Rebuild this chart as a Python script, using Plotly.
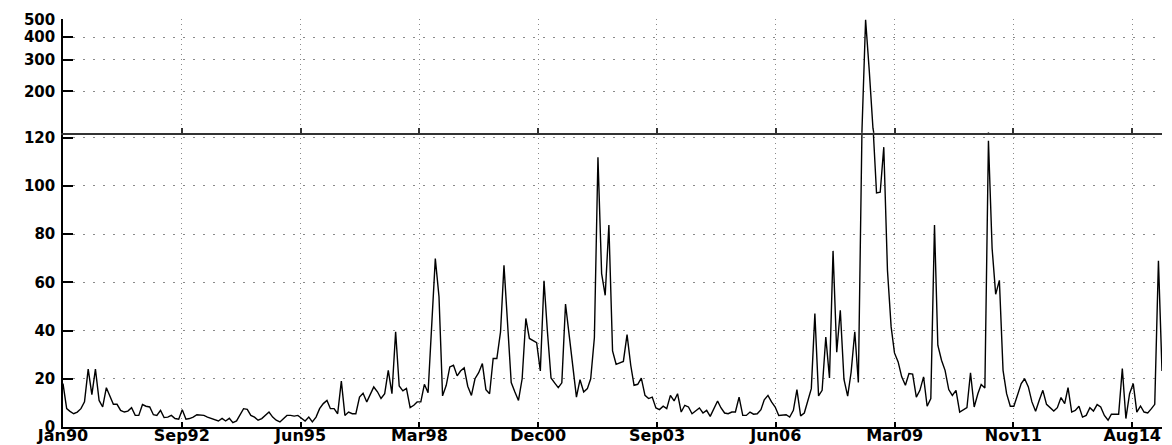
import math
import pandas as pd
import plotly.graph_objects as go

# ---------------- data (monthly, Jan 1990 - May 2015) ----------------
start_date = "1990-01-01"

values_1990s = [  # Jan 1990 - Dec 1999
    18, 7.6, 6.5, 5.5, 6.2, 7.6, 10.4, 24, 13.4, 24, 11, 8.3,
    16.3, 12.4, 9.4, 9.4, 6.9, 6.2, 6.6, 8.0, 4.8, 4.8, 9.3, 8.6,
    8.3, 5.1, 4.8, 6.9, 3.9, 4.1, 4.8, 3.5, 3.2, 7.2, 3.2, 3.5,
    4.1, 5.1, 5.1, 4.8, 4.1, 3.5, 2.8, 2.5, 3.6, 2.5, 3.6, 1.8,
    2.5, 5.5, 7.6, 7.3, 4.8, 4.1, 2.8, 3.5, 4.8, 6.2, 4.1, 2.8,
    2.1, 3.5, 4.8, 4.8, 4.5, 4.8, 3.5, 2.5, 4.1, 2.1, 4.1, 7.6,
    9.7, 11, 7.6, 7.6, 5.5, 19, 4.8, 6.2, 5.5, 5.5, 12.4, 14,
    10.4, 13.4, 16.6, 14.6, 11.8, 13.8, 23.5, 13.8, 39.5, 17, 15, 16,
    8, 9, 10.4, 10.4, 17.7, 14.2, 42, 69.8, 54, 12.9, 17.3, 24.9,
    25.6, 21.2, 23.2, 24.5, 16.9, 13.1, 20, 22.5, 26.3, 15.5, 13.8, 28.4,
]
values_2000s = [  # Jan 2000 - Dec 2009
    28.4, 39.4, 67, 42, 18.4, 14.5, 11, 20, 45, 36.7, 35.7, 35,
    23.2, 60.6, 40, 20.3, 18.3, 16.3, 18.3, 51, 38, 25, 12.4, 19.6,
    14.5, 15.9, 20, 37, 111.8, 63.6, 54.6, 83.7, 31.5, 26, 26.7, 27.2,
    38.3, 25.6, 17.3, 17.7, 20.3, 13.1, 11.8, 12.4, 7.9, 7.2, 8.6, 7.6,
    13.1, 10.8, 13.8, 6.2, 9, 8.3, 5.5, 6.9, 7.9, 5.8, 6.9, 4.4,
    7.6, 10.8, 8, 5.8, 5.5, 6.2, 6.2, 12.4, 4.8, 4.8, 6.2, 5.3,
    5.5, 7.2, 11.3, 13.1, 10.4, 8.3, 4.8, 4.8, 5.1, 4.1, 6.9, 15.5,
    4.6, 5.8, 10.5, 15.9, 47, 12.9, 15.2, 37.3, 20.3, 73, 31, 48.4,
    19.7, 12.8, 22.7, 39.5, 18.5, 125, 500, 260, 125, 97, 97.3, 116,
    65, 41.5, 30.7, 27, 20.8, 17.3, 22.2, 21.9, 12.4, 15.2, 20.8, 8.6,
]
values_2010s = [  # Jan 2010 - May 2015
    11.8, 83.7, 33.9, 27.7, 23.5, 15.5, 13.1, 15.2, 6.2, 7.2, 8, 22.5,
    8.3, 13.8, 17.6, 16.2, 118.7, 74, 55, 60.8, 23.5, 13.8, 8.6, 8.6,
    13.8, 18, 20, 16.6, 10.4, 6.5, 11, 15.2, 9.4, 8, 6.6, 8,
    12.2, 9.7, 16.3, 6.2, 6.9, 8.6, 4.1, 4.8, 8, 6.6, 9.3, 8.3,
    4.8, 2.8, 5.3, 5.3, 5.3, 24.2, 3.5, 13.8, 18, 6.2, 8.7, 6.2,
    5.8, 7.6, 9.4, 68.9, 23.2,
]

x_tick_labels = ["Jan90", "Sep92", "Jun95", "Mar98", "Dec00",
                 "Sep03", "Jun06", "Mar09", "Nov11", "Aug14"]
x_tick_step_days = 1000

low_ticks = [0, 20, 40, 60, 80, 100, 120]
high_ticks = [200, 300, 400, 500]
low_range = [0, 122]
high_range = [118, 505]

# ---------------- build ----------------
values = values_1990s + values_2000s + values_2010s
dates = pd.date_range(start_date, periods=len(values), freq="MS")
tick_dates = [pd.Timestamp(start_date) + pd.Timedelta(days=x_tick_step_days * k)
              for k in range(len(x_tick_labels))]

W, H = 1172, 445
m_l, m_r, m_t, m_b = 63, 10, 19, 18
plot_h = H - m_t - m_b
split = (H - m_b - 132.7) / plot_h

line_style = dict(color="black", width=1.4)
fig = go.Figure()
fig.add_trace(go.Scatter(x=dates, y=values, mode="lines", line=line_style,
                         xaxis="x", yaxis="y", showlegend=False, hoverinfo="skip"))
fig.add_trace(go.Scatter(x=dates, y=values, mode="lines", line=line_style,
                         xaxis="x2", yaxis="y2", showlegend=False, hoverinfo="skip"))

tick_font_x = dict(family="DejaVu Sans", size=16, color="black", weight="bold")
tick_font_y = dict(family="DejaVu Sans", size=15, color="black", weight="bold")
grid_col = "#8a8a8a"

fig.update_layout(
    width=W, height=H,
    margin=dict(l=m_l, r=m_r, t=m_t, b=m_b, autoexpand=False),
    paper_bgcolor="white", plot_bgcolor="white",
    showlegend=False,
    xaxis=dict(
        type="date", range=[dates[0], dates[-1]], anchor="y", domain=[0, 1],
        tickmode="array", tickvals=tick_dates, ticktext=x_tick_labels,
        ticks="inside", ticklen=5, tickwidth=1.5, tickcolor="black",
        showline=True, linecolor="black", linewidth=1.5,
        showgrid=True, gridcolor=grid_col, gridwidth=1, griddash="1px,4px",
        tickfont=tick_font_x, ticklabelstandoff=-7,
        zeroline=False, automargin=False,
    ),
    xaxis2=dict(
        type="date", matches="x", anchor="y2", domain=[0, 1],
        tickmode="array", tickvals=tick_dates, ticktext=x_tick_labels,
        showticklabels=False,
        ticks="inside", ticklen=5, tickwidth=1.5, tickcolor="#333333",
        showline=True, linecolor="#333333", linewidth=2,
        showgrid=True, gridcolor=grid_col, gridwidth=1, griddash="1px,4px",
        zeroline=False, automargin=False,
    ),
    yaxis=dict(
        domain=[0, split], range=low_range, anchor="x",
        tickmode="array", tickvals=low_ticks,
        ticks="inside", ticklen=10, tickwidth=1.5, tickcolor="black",
        showline=True, linecolor="black", linewidth=1.5,
        showgrid=True, gridcolor=grid_col, gridwidth=1, griddash="1.5px,8.5px",
        tickfont=tick_font_y, ticklabelstandoff=3,
        zeroline=False, automargin=False,
    ),
    yaxis2=dict(
        type="log", domain=[split, 1],
        range=[math.log10(high_range[0]), math.log10(high_range[1])], anchor="x2",
        tickmode="array", tickvals=high_ticks, ticktext=[str(t) for t in high_ticks],
        ticks="inside", ticklen=10, tickwidth=1.5, tickcolor="black",
        showline=True, linecolor="black", linewidth=1.5,
        showgrid=True, gridcolor=grid_col, gridwidth=1, griddash="1.5px,8.5px",
        tickfont=tick_font_y, ticklabelstandoff=3,
        zeroline=False, automargin=False,
    ),
)

fig.write_html(
    "out.html",
    config={"displayModeBar": False},
    post_script="document.body.style.margin='0';document.body.style.padding='0';",
)
